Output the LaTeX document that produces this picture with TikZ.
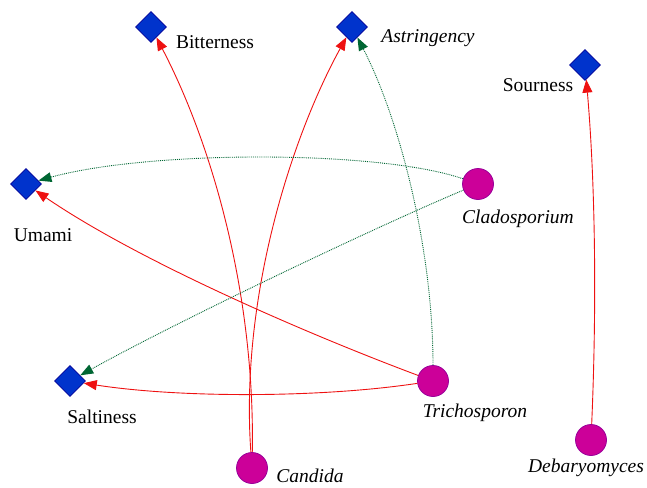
\documentclass[tikz,border=0pt]{standalone}
\usepackage{fontspec}
\setmainfont{Liberation Serif}
\usetikzlibrary{shapes.geometric,arrows.meta}
\definecolor{dblue}{HTML}{0033CC}
\definecolor{dblueb}{HTML}{000099}
\definecolor{mag}{HTML}{CC0099}
\definecolor{magb}{HTML}{990099}
\definecolor{ered}{HTML}{EE1111}
\definecolor{egreen}{HTML}{006633}
\tikzset{
  taste/.style={diamond,draw=dblueb,fill=dblue,minimum width=31pt,minimum height=31pt,inner sep=0pt,line width=0.8pt},
  fungus/.style={circle,draw=magb,fill=mag,minimum size=31pt,inner sep=0pt,line width=0.8pt},
  lbl/.style={font=\fontsize{19.5}{23}\selectfont,text=black,inner sep=0pt},
  ilbl/.style={lbl,font=\fontsize{19.5}{23}\selectfont\itshape},
  posedge/.style={draw=ered,line width=0.9pt,-{Triangle[length=13pt,width=10pt]}},
  negedge/.style={draw=egreen,line width=0.9pt,densely dotted,-{Triangle[length=13pt,width=10pt,sep=0pt,line width=0pt]}}
}
\begin{document}
\begin{tikzpicture}[x=1pt,y=-1pt]
\useasboundingbox (0,0) rectangle (647,487);
% tastes
\node[taste] (bit) at (151,27) {};
\node[taste] (ast) at (352,27) {};
\node[taste] (sou) at (585,65) {};
\node[taste] (uma) at (26,184) {};
\node[taste] (sal) at (70,381) {};
% fungi
\node[fungus] (cla) at (478,184) {};
\node[fungus] (tri) at (433,381) {};
\node[fungus] (can) at (252,468) {};
\node[fungus] (deb) at (591,440) {};
% labels
\node[lbl] (lbit) at (215,42) {Bitterness};
\node[ilbl] (last) at (428,38) {Astringency};
\node[lbl] (lsou) at (538,85) {Sourness};
\node[lbl] (luma) at (43,235) {Umami};
\node[lbl] (lsal) at (102,417) {Saltiness};
\node[ilbl] (lcla) at (518,219) {Cladosporium};
\node[ilbl] (ltri) at (475,413) {Trichosporon};
\node[ilbl] (lcan) at (310,476) {Candida};
\node[ilbl] (ldeb) at (586,468) {Debaryomyces};
% edges
\draw[posedge] (can) .. controls (255,300) and (215,150) .. (bit);
\draw[posedge] (can) .. controls (240,300) and (290,140) .. (ast);
\draw[negedge] (tri) .. controls (433,250) and (400,120) .. (ast);
\draw[posedge] (tri) .. controls (310,335) and (140,262) .. (uma);
\draw[posedge] (tri) .. controls (320,398) and (180,398) .. (sal);
\draw[negedge] (cla) .. controls (380,150) and (150,150) .. (uma);
\draw[negedge] (cla) .. controls (380,225) and (180,320) .. (sal);
\draw[posedge] (deb) .. controls (597,300) and (595,180) .. (sou);
\end{tikzpicture}
\end{document}
